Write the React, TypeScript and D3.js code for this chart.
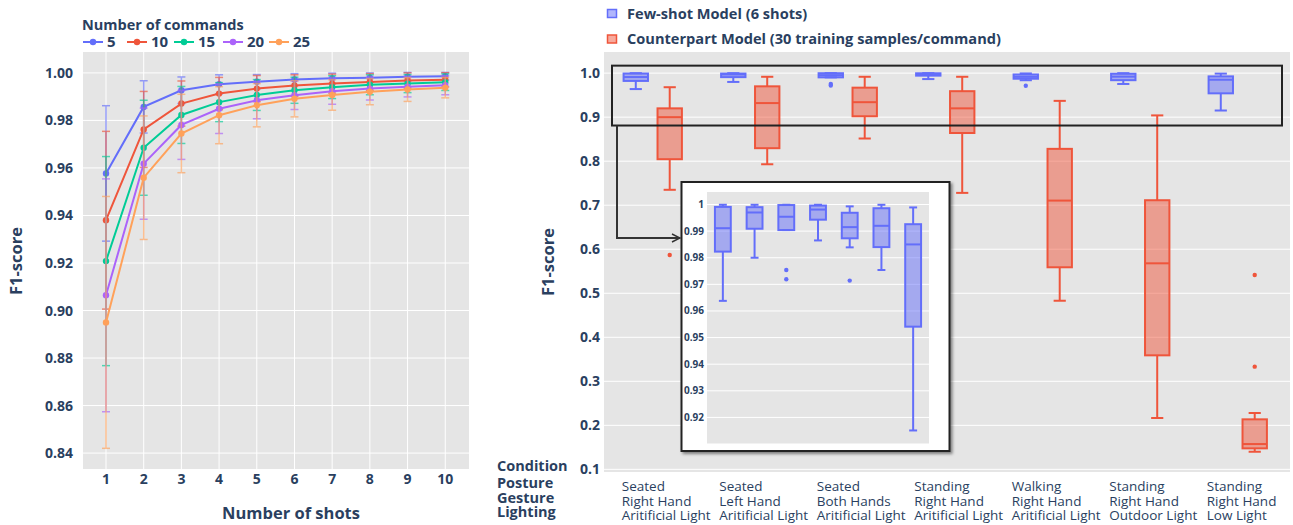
import * as d3 from "d3";

// ---- left chart: F1 vs number of shots ----
const shots = [1, 2, 3, 4, 5, 6, 7, 8, 9, 10];
const commandLabels = ["5", "10", "15", "20", "25"];
const lineColors = ["#636efa", "#EF553B", "#00cc96", "#ab63fa", "#FFA15A"];

const f1Cmd5 = [0.9577, 0.9857, 0.9927, 0.9952, 0.9963, 0.9972, 0.9977, 0.998, 0.9984, 0.9986];
const f1Cmd10 = [0.938, 0.9762, 0.9871, 0.9913, 0.9934, 0.9947, 0.9955, 0.9962, 0.9968, 0.9971];
const f1Cmd15 = [0.9208, 0.9685, 0.9823, 0.9877, 0.9907, 0.9927, 0.994, 0.995, 0.9955, 0.9961];
const f1Cmd20 = [0.9064, 0.9618, 0.9781, 0.9849, 0.9885, 0.9906, 0.9923, 0.9934, 0.9942, 0.9948];
const f1Cmd25 = [0.895, 0.9559, 0.9745, 0.9822, 0.9864, 0.9891, 0.9907, 0.9921, 0.993, 0.9938];

const errCmd5 = [0.0285, 0.011, 0.0056, 0.004, 0.003, 0.0025, 0.0022, 0.002, 0.0018, 0.0016];
const errCmd10 = [0.0374, 0.016, 0.0095, 0.0068, 0.0055, 0.0045, 0.004, 0.0035, 0.0032, 0.003];
const errCmd15 = [0.044, 0.02, 0.012, 0.0082, 0.0065, 0.0055, 0.0048, 0.0042, 0.0038, 0.0035];
const errCmd20 = [0.049, 0.0234, 0.0145, 0.0104, 0.0078, 0.006, 0.0055, 0.0048, 0.0043, 0.004];
const errCmd25 = [0.053, 0.026, 0.0165, 0.012, 0.0091, 0.0076, 0.0064, 0.0055, 0.005, 0.0043];

const leftYTicks = [0.84, 0.86, 0.88, 0.9, 0.92, 0.94, 0.96, 0.98, 1.0];

// ---- right chart: box plots per condition ----
const postures = ["Seated", "Seated", "Seated", "Standing", "Walking", "Standing", "Standing"];
const gestures = ["Right Hand", "Left Hand", "Both Hands", "Right Hand", "Right Hand", "Right Hand", "Right Hand"];
const lightings = [
  "Aritificial Light",
  "Aritificial Light",
  "Aritificial Light",
  "Aritificial Light",
  "Aritificial Light",
  "Outdoor Light",
  "Low Light",
];
const rowNames = ["Condition", "Posture", "Gesture", "Lighting"];

// few-shot model (6 shots)
const fewLower = [0.9638, 0.98, 0.9904, 0.9865, 0.9839, 0.9754, 0.9151];
const fewQ1 = [0.9823, 0.9909, 0.9904, 0.9943, 0.9873, 0.984, 0.9541];
const fewMedian = [0.9911, 0.997, 0.9954, 0.9981, 0.9915, 0.992, 0.985];
const fewQ3 = [0.9991, 0.999, 0.9998, 0.9996, 0.9969, 0.9986, 0.9926];
const fewUpper = [0.9999, 0.9999, 0.9999, 0.9999, 0.9993, 0.9999, 0.9989];
const fewOutliers = [[], [], [0.9754, 0.9719], [], [0.9714], [], []];

// counterpart model (30 samples / command)
const cpLower = [0.735, 0.793, 0.8515, 0.728, 0.483, 0.2166, 0.14];
const cpQ1 = [0.8045, 0.8295, 0.902, 0.864, 0.559, 0.359, 0.1477];
const cpMedian = [0.9, 0.932, 0.934, 0.92, 0.7105, 0.568, 0.1575];
const cpQ3 = [0.92, 0.97, 0.967, 0.959, 0.828, 0.7113, 0.2136];
const cpUpper = [0.968, 0.9917, 0.9917, 0.9917, 0.937, 0.904, 0.228];
const cpOutliers = [[0.587], [], [], [], [], [], [0.5416, 0.3333]];

const rightYTicks = [0.1, 0.2, 0.3, 0.4, 0.5, 0.6, 0.7, 0.8, 0.9, 1.0];
const insetYTicks = [0.92, 0.93, 0.94, 0.95, 0.96, 0.97, 0.98, 0.99, 1.0];

const BLUE = "#636efa";
const RED = "#EF553B";
const INK = "#2a3f5f";
const BG = "#e5e5e5";
const FONT = "'Open Sans', sans-serif";

function BoxMark({ cx, w, y, lo, q1, med, q3, hi, outs, color }) {
  return (
    <g stroke={color} strokeWidth={2}>
      <line x1={cx} x2={cx} y1={y(lo)} y2={y(q1)} />
      <line x1={cx} x2={cx} y1={y(q3)} y2={y(hi)} />
      <line x1={cx - w / 4} x2={cx + w / 4} y1={y(lo)} y2={y(lo)} />
      <line x1={cx - w / 4} x2={cx + w / 4} y1={y(hi)} y2={y(hi)} />
      <rect
        x={cx - w / 2}
        y={y(q3)}
        width={w}
        height={Math.max(y(q1) - y(q3), 0.5)}
        fill={color}
        fillOpacity={0.5}
      />
      <line x1={cx - w / 2} x2={cx + w / 2} y1={y(med)} y2={y(med)} />
      {outs.map((o, i) => (
        <circle key={i} cx={cx} cy={y(o)} r={2.2} fill={color} stroke="none" />
      ))}
    </g>
  );
}

function LeftChart() {
  const left = 83, right = 469, top = 52, bottom = 469;
  const x = d3.scaleLinear().domain([0.39, 10.63]).range([left, right]);
  const y = d3.scaleLinear().domain([0.8333, 1.0088]).range([bottom, top]);
  const series = [f1Cmd5, f1Cmd10, f1Cmd15, f1Cmd20, f1Cmd25];
  const errs = [errCmd5, errCmd10, errCmd15, errCmd20, errCmd25];
  const line = d3
    .line<number>()
    .x((_, i) => x(shots[i]))
    .y((d) => y(d));
  const legendX = [83, 127, 174, 223, 269];

  return (
    <g fontFamily={FONT}>
      <rect x={left} y={top} width={right - left} height={bottom - top} fill={BG} />
      {leftYTicks.map((t) => (
        <line key={t} x1={left} x2={right} y1={y(t)} y2={y(t)} stroke="#fff" strokeWidth={1} />
      ))}
      {shots.map((s) => (
        <line key={s} x1={x(s)} x2={x(s)} y1={top} y2={bottom} stroke="#fff" strokeWidth={1} />
      ))}
      {series.map((vals, si) => (
        <g key={si}>
          <g stroke={lineColors[si]} strokeWidth={1.5} opacity={0.65}>
            {vals.map((v, i) => {
              const cx = x(shots[i]);
              const e = errs[si][i];
              return (
                <g key={i}>
                  <line x1={cx} x2={cx} y1={y(v - e)} y2={y(v + e)} />
                  <line x1={cx - 4} x2={cx + 4} y1={y(v - e)} y2={y(v - e)} />
                  <line x1={cx - 4} x2={cx + 4} y1={y(v + e)} y2={y(v + e)} />
                </g>
              );
            })}
          </g>
          <path d={line(vals) || ""} fill="none" stroke={lineColors[si]} strokeWidth={2} />
          {vals.map((v, i) => (
            <circle key={i} cx={x(shots[i])} cy={y(v)} r={3.2} fill={lineColors[si]} />
          ))}
        </g>
      ))}
      {leftYTicks.map((t) => (
        <text
          key={t}
          x={73}
          y={y(t) + 5}
          textAnchor="end"
          fontSize={14}
          fontWeight="bold"
          fill={INK}
        >
          {t.toFixed(2)}
        </text>
      ))}
      {shots.map((s) => (
        <text
          key={s}
          x={x(s)}
          y={484}
          textAnchor="middle"
          fontSize={14}
          fontWeight="bold"
          fill={INK}
        >
          {s}
        </text>
      ))}
      <text x={291} y={519} textAnchor="middle" fontSize={16.5} fontWeight="bold" fill={INK}>
        Number of shots
      </text>
      <text
        transform={`translate(22,261) rotate(-90)`}
        textAnchor="middle"
        fontSize={16.5}
        fontWeight="bold"
        fill={INK}
      >
        F1-score
      </text>
      <text x={82} y={30} fontSize={14.5} fontWeight="bold" fill={INK}>
        Number of commands
      </text>
      {commandLabels.map((c, i) => (
        <g key={c}>
          <line
            x1={legendX[i]}
            x2={legendX[i] + 20}
            y1={42}
            y2={42}
            stroke={lineColors[i]}
            strokeWidth={2}
          />
          <circle cx={legendX[i] + 10} cy={42} r={3.2} fill={lineColors[i]} />
          <text x={legendX[i] + 24} y={47} fontSize={15} fontWeight="bold" fill={INK}>
            {c}
          </text>
        </g>
      ))}
    </g>
  );
}

function RightChart() {
  const left = 604, right = 1290, top = 52, bottom = 472;
  const idx = d3.range(postures.length);
  const x = d3.scaleBand<number>().domain(idx).range([604, 1286.5]);
  const bw = x.bandwidth();
  const y = d3.scaleLinear().domain([0.094, 1.048]).range([bottom, top]);

  // inset zoom
  const inX = d3.scaleBand<number>().domain(idx).range([707, 929]);
  const inY = d3.scaleLinear().domain([0.9102, 1.0047]).range([443.5, 192]);

  const boxW = bw * 0.25;
  const off = bw * 0.174;

  return (
    <g fontFamily={FONT}>
      <defs>
        <marker
          id="arrowOpen"
          viewBox="0 0 10 10"
          refX={9}
          refY={5}
          markerWidth={10}
          markerHeight={10}
          markerUnits="userSpaceOnUse"
          orient="auto"
        >
          <path d="M1,1 L9,5 L1,9" fill="none" stroke="#333" strokeWidth={1.4} />
        </marker>
        <filter id="insetShadow" x="-10%" y="-10%" width="130%" height="130%">
          <feDropShadow dx={2} dy={2} stdDeviation={1.8} floodColor="#000" floodOpacity={0.45} />
        </filter>
      </defs>
      <rect x={left} y={top} width={right - left} height={bottom - top} fill={BG} />
      {rightYTicks.map((t) => (
        <line key={t} x1={left} x2={right} y1={y(t)} y2={y(t)} stroke="#fff" strokeWidth={1} />
      ))}
      {idx.map((i) => {
        const c = (x(i) || 0) + bw / 2;
        return (
          <g key={i}>
            <BoxMark
              cx={c - off}
              w={boxW}
              y={y}
              lo={fewLower[i]}
              q1={fewQ1[i]}
              med={fewMedian[i]}
              q3={fewQ3[i]}
              hi={fewUpper[i]}
              outs={fewOutliers[i]}
              color={BLUE}
            />
            <BoxMark
              cx={c + off}
              w={boxW}
              y={y}
              lo={cpLower[i]}
              q1={cpQ1[i]}
              med={cpMedian[i]}
              q3={cpQ3[i]}
              hi={cpUpper[i]}
              outs={cpOutliers[i]}
              color={RED}
            />
          </g>
        );
      })}

      {/* highlight of the 0.88-1.0 band and its connector */}
      <rect x={612} y={y(1.017)} width={670} height={y(0.881) - y(1.017)} fill="none" stroke="#222" strokeWidth={2} />
      <path
        d={`M617,${y(0.881)} L617,238 L680,238`}
        fill="none"
        stroke="#333"
        strokeWidth={2}
        markerEnd="url(#arrowOpen)"
      />

      {/* inset */}
      <rect x={681.5} y={182} width={268} height={269} fill="#fff" stroke="#222" strokeWidth={2} filter="url(#insetShadow)" />
      <rect x={707} y={192} width={222} height={251.5} fill={BG} />
      {insetYTicks.map((t) => (
        <line key={t} x1={707} x2={929} y1={inY(t)} y2={inY(t)} stroke="#fff" strokeWidth={1} />
      ))}
      {idx.map((i) => (
        <BoxMark
          key={i}
          cx={(inX(i) || 0) + inX.bandwidth() / 2}
          w={inX.bandwidth() * 0.5}
          y={inY}
          lo={fewLower[i]}
          q1={fewQ1[i]}
          med={fewMedian[i]}
          q3={fewQ3[i]}
          hi={fewUpper[i]}
          outs={fewOutliers[i]}
          color={BLUE}
        />
      ))}
      {insetYTicks.map((t) => (
        <text key={t} x={704} y={inY(t) + 3.5} textAnchor="end" fontSize={10} fontWeight="bold" fill={INK}>
          {t === 1 ? "1" : t.toFixed(2)}
        </text>
      ))}

      {rightYTicks.map((t) => (
        <text key={t} x={600} y={y(t) + 5} textAnchor="end" fontSize={14} fontWeight="bold" fill={INK}>
          {t.toFixed(1)}
        </text>
      ))}
      <text
        transform={`translate(554,262) rotate(-90)`}
        textAnchor="middle"
        fontSize={16.5}
        fontWeight="bold"
        fill={INK}
      >
        F1-score
      </text>

      {/* condition labels */}
      {rowNames.map((s, k) => (
        <text key={s} x={497} y={[471, 488, 502.5, 516.5][k]} fontSize={14.5} fontWeight="bold" fill={INK}>
          {s}
        </text>
      ))}
      {idx.map((i) => {
        const lx = (x(i) || 0) + bw / 2 - 31;
        return (
          <text key={i} fontSize={13.5} fill={INK}>
            <tspan x={lx} y={491}>{postures[i]}</tspan>
            <tspan x={lx} y={505.5}>{gestures[i]}</tspan>
            <tspan x={lx} y={520}>{lightings[i]}</tspan>
          </text>
        );
      })}

      {/* legend */}
      <rect x={607.5} y={9.5} width={9} height={8} fill={BLUE} fillOpacity={0.5} stroke={BLUE} strokeWidth={1.5} />
      <text x={627} y={19} fontSize={14.6} fontWeight="bold" fill={INK}>
        Few-shot Model (6 shots)
      </text>
      <rect x={607.5} y={35} width={9} height={8} fill={RED} fillOpacity={0.5} stroke={RED} strokeWidth={1.5} />
      <text x={627} y={44} fontSize={14.6} fontWeight="bold" fill={INK}>
        Counterpart Model (30 training samples/command)
      </text>
    </g>
  );
}

export default function App() {
  return (
    <svg
      width={1293}
      height={525}
      style={{ position: "absolute", left: 0, top: 0, background: "#fff" }}
    >
      <LeftChart />
      <RightChart />
    </svg>
  );
}
